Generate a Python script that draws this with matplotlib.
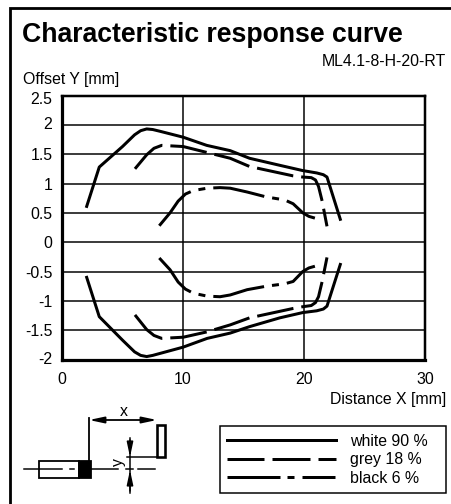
import matplotlib
matplotlib.use('Agg')
import matplotlib.pyplot as plt
from matplotlib.lines import Line2D
from matplotlib.patches import Rectangle
from matplotlib.transforms import ScaledTranslation

plt.rcParams['font.family'] = ['Liberation Sans', 'DejaVu Sans']
plt.rcParams['lines.scale_dashes'] = False

W, H = 452, 504
PX = 0.72

# curves
white_up_x = [2.04, 3.08, 5.0, 6.0, 6.5, 7.0, 7.5, 8.1, 10.0, 11.96, 13.9, 15.5, 18.0, 19.9, 21.05, 21.6, 21.9, 23.0]
white_up_y = [0.61, 1.28, 1.63, 1.83, 1.90, 1.93, 1.92, 1.89, 1.79, 1.65, 1.56, 1.43, 1.31, 1.22, 1.18, 1.15, 1.11, 0.39]
white_lo_x = [2.04, 3.08, 5.0, 6.0, 6.5, 7.0, 7.5, 10.0, 12.0, 13.9, 15.5, 18.0, 19.9, 21.05, 21.6, 21.9, 23.0]
white_lo_y = [-0.60, -1.27, -1.67, -1.87, -1.93, -1.95, -1.93, -1.79, -1.64, -1.55, -1.44, -1.29, -1.20, -1.17, -1.14, -1.09, -0.38]
grey_up_x = [6.03, 7.0, 7.6, 8.24, 10.02, 11.96, 13.9, 15.5, 19.1, 19.9, 20.6, 20.95, 21.2, 21.5, 21.9]
grey_up_y = [1.25, 1.49, 1.60, 1.65, 1.63, 1.53, 1.43, 1.29, 1.13, 1.11, 1.10, 1.06, 0.95, 0.70, 0.27]
grey_lo_x = [6.03, 7.0, 7.6, 8.24, 10.02, 11.96, 13.9, 15.5, 19.1, 19.9, 20.6, 20.95, 21.2, 21.5, 21.9]
grey_lo_y = [-1.24, -1.49, -1.59, -1.64, -1.62, -1.53, -1.41, -1.29, -1.13, -1.10, -1.08, -1.03, -0.93, -0.67, -0.26]
black_up_x = [8.04, 8.93, 9.6, 10.2, 10.85, 12.0, 13.06, 13.9, 15.3, 16.9, 18.4, 19.1, 19.9, 20.4, 20.9]
black_up_y = [0.28, 0.50, 0.70, 0.82, 0.88, 0.92, 0.93, 0.92, 0.855, 0.77, 0.72, 0.655, 0.50, 0.44, 0.41]
black_lo_x = [8.04, 8.93, 9.6, 10.2, 10.85, 12.0, 13.06, 13.9, 15.3, 16.9, 18.4, 19.1, 19.9, 20.4, 20.9]
black_lo_y = [-0.27, -0.47, -0.68, -0.80, -0.87, -0.92, -0.93, -0.90, -0.81, -0.75, -0.71, -0.67, -0.50, -0.44, -0.41]

x_ticks = [0, 10, 20, 30]
y_ticks = [-2, -1.5, -1, -0.5, 0, 0.5, 1, 1.5, 2, 2.5]
y_labels = ['-2', '-1.5', '-1', '-0.5', '0', '0.5', '1', '1.5', '2', '2.5']
legend_labels = ['white 90 %', 'grey 18 %', 'black 6 %']

grey_dash = (0, (37 * PX, 8 * PX))
black_dash = (5 * PX, (52 * PX, 8 * PX, 7 * PX, 8 * PX))

fig = plt.figure(figsize=(W / 100, H / 100), dpi=100)

# overlay in pixel coordinates for frame, title and sketch
bg = fig.add_axes([0, 0, 1, 1])
bg.set_xlim(0, W)
bg.set_ylim(H, 0)
bg.axis('off')

bg.plot([9.7, 9.7, 452], [504, 7.8, 7.8], color='black', lw=2.8 * PX, solid_joinstyle='miter')
bg.text(22, 35, 'Characteristic response curve', fontsize=19.2, fontweight='bold', va='center')
bg.text(446, 61.5, 'ML4.1-8-H-20-RT', fontsize=11.4, ha='right', va='center')
bg.text(23, 79.5, 'Offset Y [mm]', fontsize=11.4, va='center')
bg.text(446, 399.5, 'Distance X [mm]', fontsize=11.4, ha='right', va='center')

# sensor sketch
thin = 1.5 * PX
head = '-|>,head_length=0.8,head_width=0.17'
bg.add_patch(Rectangle((38.7, 460.7), 40, 17.5, fc='white', ec='black', lw=1.8 * PX))
bg.add_patch(Rectangle((78.7, 460.7), 12, 17.5, fc='black', ec='black', lw=1.8 * PX))
bg.add_patch(Rectangle((157, 424.5), 7.7, 32.5, fc='white', ec='black', lw=2.6 * PX))
for x0, x1 in [(24, 62), (70, 74), (91, 118), (126, 133), (138, 155)]:
    bg.plot([x0, x1], [469.4, 469.4], color='black', lw=thin)
bg.plot([89, 89], [418, 461], color='black', lw=1.8 * PX)
bg.plot([127, 157], [457, 457], color='black', lw=thin)
bg.plot([130, 130], [438, 493], color='black', lw=thin)
bg.annotate('', xy=(89, 420), xytext=(157, 420),
            arrowprops=dict(arrowstyle='<|-|>,head_length=0.8,head_width=0.17', mutation_scale=11,
                            color='black', lw=1.8 * PX, shrinkA=0, shrinkB=0))
bg.annotate('', xy=(130, 457), xytext=(130, 440),
            arrowprops=dict(arrowstyle=head, mutation_scale=11,
                            color='black', lw=thin, shrinkA=0, shrinkB=0))
bg.annotate('', xy=(130, 470), xytext=(130, 491),
            arrowprops=dict(arrowstyle=head, mutation_scale=11,
                            color='black', lw=thin, shrinkA=0, shrinkB=0))
bg.text(123.5, 411.5, 'x', fontsize=11.4, ha='center', va='center')
bg.text(118.5, 461.5, 'y', fontsize=11.4, ha='center', va='center', rotation=90)

# chart axes
left, right, top, bottom = 62, 425, 95.5, 359.5
ax = fig.add_axes([left / W, 1 - bottom / H, (right - left) / W, (bottom - top) / H])
ax.set_xlim(0, 30)
ax.set_ylim(-2, 2.5)
ax.set_xticks(x_ticks)
ax.set_yticks(y_ticks)
ax.set_yticklabels(y_labels)
ax.tick_params(length=0, labelsize=11.4, pad=7)
ax.tick_params(axis='x', pad=9)
ax.grid(True, color='black', lw=1.5 * PX)
ax.set_axisbelow(True)
for name, spine in ax.spines.items():
    spine.set_linewidth(2.5 * PX)
ax.spines['left'].set_linewidth(3.2 * PX)
ax.spines['bottom'].set_linewidth(3.2 * PX)

# the end labels sit slightly inside their grid lines
for label, shift in zip(ax.get_yticklabels(), [2, 0, 0, 0, 0, 0, 0, 0, 2, -3]):
    label.set_transform(label.get_transform() + ScaledTranslation(0, shift / 100, fig.dpi_scale_trans))

lw = 3 * PX
style = dict(color='black', lw=lw, solid_joinstyle='round', dash_joinstyle='round')
ax.plot(white_up_x, white_up_y, **style)
ax.plot(white_lo_x, white_lo_y, **style)
ax.plot(grey_up_x, grey_up_y, ls=grey_dash, **style)
ax.plot(grey_lo_x, grey_lo_y, ls=grey_dash, **style)
ax.plot(black_up_x, black_up_y, ls=black_dash, **style)
ax.plot(black_lo_x, black_lo_y, ls=black_dash, **style)

handles = [Line2D([], [], color='black', lw=lw),
           Line2D([], [], color='black', lw=lw, ls=(0, (37 * PX, 8 * PX, 38 * PX, 8 * PX, 18 * PX, 30 * PX))),
           Line2D([], [], color='black', lw=lw, ls=(0, (53 * PX, 7 * PX, 7 * PX, 8 * PX, 33 * PX, 30 * PX)))]
leg = fig.legend(handles, legend_labels, loc='lower left',
                 bbox_to_anchor=(220.3 / W, 1 - 492.7 / H, 225.4 / W, 64 / H), mode='expand',
                 fontsize=11.4, fancybox=False, framealpha=1, edgecolor='black',
                 borderaxespad=0, borderpad=0.45, handlelength=6.83, handletextpad=0.93,
                 labelspacing=0.22)
leg.get_frame().set_linewidth(1.5 * PX)

fig.savefig('out.png', dpi=100)
